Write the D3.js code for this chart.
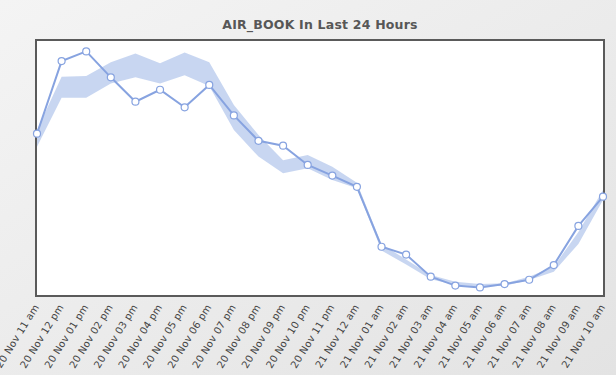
<!DOCTYPE html>
<html><head><meta charset="utf-8">
<script src="https://cdn.jsdelivr.net/npm/d3@7"></script>
<style>html,body{margin:0;padding:0;background:#eee;}svg{display:block;}</style>
</head><body>
<script>
const labels = ["20 Nov 11 am","20 Nov 12 pm","20 Nov 01 pm","20 Nov 02 pm","20 Nov 03 pm","20 Nov 04 pm","20 Nov 05 pm","20 Nov 06 pm","20 Nov 07 pm","20 Nov 08 pm","20 Nov 09 pm","20 Nov 10 pm","20 Nov 11 pm","21 Nov 12 am","21 Nov 01 am","21 Nov 02 am","21 Nov 03 am","21 Nov 04 am","21 Nov 05 am","21 Nov 06 am","21 Nov 07 am","21 Nov 08 am","21 Nov 09 am","21 Nov 10 am"];
const values = [63.5,92.1,95.9,85.7,76.1,80.8,73.9,82.7,70.7,60.7,58.8,51.2,47.0,42.6,19.0,15.9,7.2,3.7,3.0,4.3,6.0,11.8,27.2,38.7];
const bandHigh = [65.0,85.9,86.2,91.6,95.1,91.2,95.5,91.6,74.8,63.0,53.1,55.1,50.5,44.2,20.0,14.0,7.9,5.2,4.3,4.6,7.2,11.2,24.8,41.3];
const bandLow  = [58.4,77.7,77.7,83.3,85.7,83.3,86.5,82.3,65.0,54.5,47.9,49.9,45.3,42.0,17.5,12.0,6.2,3.9,3.3,3.6,5.9,9.2,20.1,37.4];
const title = "AIR_BOOK In Last 24 Hours";

const W = 616, H = 375;
const svg = d3.select("body").append("svg").attr("width", W).attr("height", H);
const defs = svg.append("defs");
const g = defs.append("linearGradient").attr("id","bg").attr("x1","0").attr("y1","0").attr("x2","1").attr("y2","1");
g.append("stop").attr("offset","0").attr("stop-color","#f4f4f4");
g.append("stop").attr("offset","1").attr("stop-color","#e3e3e3");
defs.append("clipPath").attr("id","clip").append("rect").attr("x",37).attr("y",41).attr("width",566).attr("height",254);

svg.append("rect").attr("width",W).attr("height",H).attr("fill","url(#bg)");

const x = d3.scalePoint().domain(labels).range([37, 603]);
const y = d3.scaleLinear().domain([0,100]).range([295, 41]);

svg.append("rect").attr("x",36).attr("y",40).attr("width",568).attr("height",256)
  .attr("fill","#fff").attr("stroke","#5a5a5a").attr("stroke-width",2);

svg.append("text").attr("x",320).attr("y",29).attr("text-anchor","middle")
  .attr("font-family","DejaVu Sans").attr("font-weight","bold").attr("font-size",12.5)
  .attr("letter-spacing",0.2)
  .attr("fill","#575757").text(title);

const plot = svg.append("g").attr("clip-path","url(#clip)");
const area = d3.area().x((d,i)=>x(labels[i])).y0((d,i)=>y(bandLow[i])).y1((d,i)=>y(bandHigh[i]));
plot.append("path").datum(values).attr("d", area).attr("fill","#c5d4f0").attr("opacity",0.95);

const line = d3.line().x((d,i)=>x(labels[i])).y(d=>y(d));
svg.append("path").datum(values).attr("d", line).attr("fill","none")
  .attr("stroke","#87a3e0").attr("stroke-width",2);

svg.append("g").selectAll("circle").data(values).join("circle")
  .attr("cx",(d,i)=>x(labels[i])).attr("cy",d=>y(d)).attr("r",3.5)
  .attr("fill","#fff").attr("stroke","#87a3e0").attr("stroke-width",1.2);

const xAxis = svg.append("g").attr("transform","translate(0,296)")
  .call(d3.axisBottom(x).tickSize(0).tickPadding(0));
xAxis.select(".domain").remove();
xAxis.selectAll("text")
  .attr("font-family","DejaVu Sans").attr("font-size",10).attr("fill","#444")
  .attr("letter-spacing",0.2)
  .attr("text-anchor","end").attr("dy",0)
  .attr("transform","translate(2,11) rotate(-58)");
</script>
</body></html>
